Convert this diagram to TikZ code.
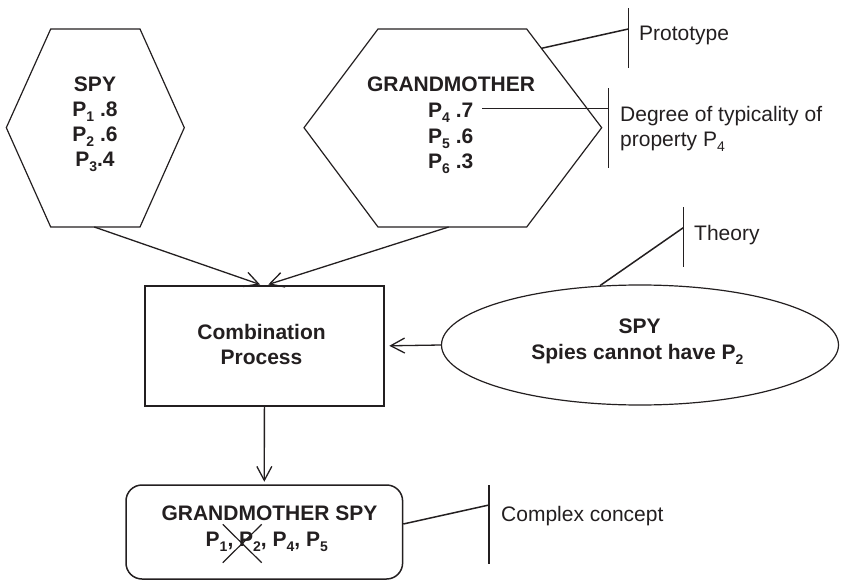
\documentclass[tikz,border=0pt]{standalone}
\usepackage{fontspec}
\setmainfont{Liberation Sans}
\usetikzlibrary{shapes.geometric,arrows.meta,calc}
\definecolor{ink}{RGB}{35,31,32}
% lowered, smaller digit used as a subscript in text
\newcommand\psub[1]{\raisebox{-5pt}{\fontsize{14}{14}\selectfont #1}}

\begin{document}
\begin{tikzpicture}[x=1pt,y=-1pt,
  head/.style={font=\bfseries\fontsize{21}{25}\selectfont, text=ink, inner sep=0pt, anchor=base},
  note/.style={font=\fontsize{21}{25}\selectfont, text=ink, inner sep=0pt, anchor=base west},
  outline/.style={draw=ink, line width=1.2pt, line join=miter},
  link/.style={draw=ink, line width=1.3pt, -{Straight Barb[length=14pt,width=15pt,line width=1.3pt]}},
  tick/.style={draw=ink, line width=1.5pt},
]
\useasboundingbox (0,0) rectangle (841,583);

% ---- concept SPY (prototype hexagon)
\draw[outline] (50.7,29) -- (140,29) -- (184.3,127.7) -- (140,227) -- (50.7,227) -- (6.3,127.7) -- cycle;
\coordinate (spyB) at (94.3,227);
\node[head] (spyT)  at (95,91.7)  {SPY};
\node[head] (spyP1) at (95,116.3) {P\psub{1} .8};
\node[head] (spyP2) at (95,141.7) {P\psub{2} .6};
\node[head] (spyP3) at (95,166.7) {P\psub{3}.4};

% ---- concept GRANDMOTHER (prototype hexagon)
\draw[outline] (378,29) -- (526.7,29) -- (601.7,127.7) -- (526.7,227) -- (378,227) -- (304,127.7) -- cycle;
\coordinate (gmB) at (448.6,227);
\coordinate (gmEdge) at (541.5,48.3);
\node[head] (gmT)  at (451,92)    {GRANDMOTHER};
\node[head] (gmP4) at (450.7,117.3) {P\psub{4} .7};
\node[head] (gmP5) at (450.7,143.3) {P\psub{5} .6};
\node[head] (gmP6) at (450.7,168.3) {P\psub{6} .3};

% ---- combination process
\node[draw=ink, line width=2.2pt, minimum width=238.7pt, minimum height=119.7pt, inner sep=0pt]
  (combo) at (264.4,345.8) {};
\node[head] (comboT1) at (261.5,339)   {Combination};
\node[head] (comboT2) at (261.5,364.7) {Process};

% ---- theory ellipse
\node[ellipse, draw=ink, line width=1.2pt, minimum width=397pt, minimum height=120pt, inner sep=0pt]
  (theory) at (640,345) {};
\node[head] (thT1) at (639.7,333.3) {SPY};
\node[head] (thT2) at (637.4,359.3) {Spies cannot have P\psub{2}};

% ---- complex concept
\node[draw=ink, line width=1.5pt, rounded corners=16pt, minimum width=276.6pt, minimum height=94pt, inner sep=0pt]
  (cplx) at (264.3,532) {};
\node[head] (cxT1) at (269.5,520)   {GRANDMOTHER SPY};
\node[head] (cxT2) at (266.8,546.7) {P\psub{1}, P\psub{2}, P\psub{4}, P\psub{5}};
\draw[draw=ink, line width=1.2pt] (222.7,524.3) -- (261.7,562.7) (261.7,524.3) -- (222.7,562.7);

% ---- connectors
\coordinate (tipL) at (260,284.5);
\coordinate (tipR) at (268.3,284.5);
\draw[link] (spyB) -- (tipL);
\draw[link] (gmB) -- (tipR);
\draw[link] (theory.west) -- ($(combo.east)+(4.5,0)$);
\draw[link, shorten >=2.5pt] (combo.south) -- (cplx.north);

% ---- annotations
\coordinate (protoBar) at (628.3,29);
\draw[tick] (gmEdge) -- (protoBar);
\draw[tick] ($(protoBar)+(0,-20.7)$) -- ($(protoBar)+(0,39.3)$);
\node[note] (protoL) at (639,40.7) {Prototype};

\coordinate (degA) at (482.3,108.3);
\coordinate (degBar) at (608.3,108.3);
\draw[tick] (degA) -- (degBar);
\draw[tick] ($(degBar)+(0,-20)$) -- ($(degBar)+(0,59.4)$);
\node[note] (degL1) at (620,121.5) {Degree of typicality of};
\node[note] (degL2) at (620,147)   {property P\psub{4}};

\coordinate (thBar) at (683.3,227.7);
\draw[tick] (theory.124.6) -- (thBar);
\draw[tick] ($(thBar)+(0,-20.4)$) -- ($(thBar)+(0,39)$);
\node[note] (thL) at (694,240.7) {Theory};

\coordinate (cxA) at (403.3,524);
\coordinate (cxBar) at (489,505);
\draw[tick] (cxA) -- (cxBar);
\draw[tick] ($(cxBar)+(0,-20)$) -- ($(cxBar)+(0,59.3)$);
\node[note] (cxL) at (501,521.7) {Complex concept};
\end{tikzpicture}
\end{document}
